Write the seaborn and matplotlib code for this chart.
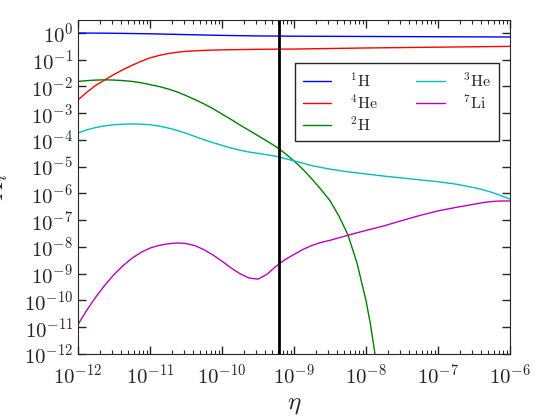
import matplotlib
matplotlib.use("Agg")
import matplotlib.pyplot as plt
import matplotlib.ticker as mticker
import seaborn as sns
import numpy as np
import pandas as pd

# values, as log10(eta) and log10(abundance)
h1_logeta = [-12, -11.5, -11, -10.5, -10, -9.5, -9, -8, -7, -6]
h1_logx = [0.0, -0.01, -0.03, -0.06, -0.09, -0.11, -0.12, -0.13, -0.14, -0.15]

he4_logeta = [-12, -11.875, -11.75, -11.625, -11.5, -11.375, -11.25, -11.125, -11,
              -10.875, -10.75, -10.625, -10.5, -10.25, -10, -9.5, -9, -8, -7, -6]
he4_logx = [-2.5, -2.21, -1.95, -1.75, -1.55, -1.37, -1.21, -1.06, -0.93,
            -0.84, -0.77, -0.72, -0.685, -0.65, -0.63, -0.61, -0.6, -0.56, -0.53, -0.5]

h2_logeta = [-12, -11.875, -11.75, -11.625, -11.5, -11.375, -11.25, -11.125, -11,
             -10.875, -10.75, -10.625, -10.5, -10.375, -10.25, -10.125, -10, -9.875,
             -9.75, -9.625, -9.5, -9.375, -9.25, -9.125, -9, -8.875, -8.75, -8.625,
             -8.5, -8.375, -8.25, -8.125, -8.0, -7.9375, -7.875, -7.8]
h2_logx = [-1.81, -1.78, -1.76, -1.75, -1.76, -1.78, -1.81, -1.86, -1.93,
           -2.0, -2.09, -2.2, -2.34, -2.49, -2.65, -2.83, -3.03, -3.23,
           -3.44, -3.64, -3.84, -4.04, -4.25, -4.5, -4.78, -5.1, -5.46, -5.85,
           -6.27, -6.85, -7.55, -8.6, -10.0, -10.9, -12.0, -13.5]

he3_logeta = [-12, -11.875, -11.75, -11.625, -11.5, -11.375, -11.25, -11.125, -11,
              -10.875, -10.75, -10.625, -10.5, -10.375, -10.25, -10.125, -10, -9.875,
              -9.75, -9.625, -9.5, -9.25, -9, -8.75, -8.5, -8.25, -8, -7.75, -7.5,
              -7.25, -7, -6.75, -6.5, -6.375, -6.25, -6.125, -6]
he3_logx = [-3.74, -3.62, -3.53, -3.47, -3.43, -3.41, -3.4, -3.41, -3.43,
            -3.48, -3.55, -3.64, -3.75, -3.87, -3.99, -4.1, -4.2, -4.3,
            -4.38, -4.45, -4.5, -4.61, -4.78, -4.96, -5.09, -5.19, -5.27, -5.35, -5.42,
            -5.49, -5.56, -5.65, -5.78, -5.86, -5.96, -6.08, -6.21]

li7_logeta = [-12, -11.875, -11.75, -11.625, -11.5, -11.375, -11.25, -11.125, -11,
              -10.875, -10.75, -10.625, -10.5, -10.375, -10.25, -10.125, -10, -9.875,
              -9.75, -9.625, -9.5, -9.375, -9.25, -9.125, -9, -8.875, -8.75, -8.625,
              -8.5, -8.25, -8, -7.75, -7.5, -7.25, -7, -6.75, -6.5, -6.375, -6.25,
              -6.125, -6]
li7_logx = [-10.9, -10.35, -9.86, -9.42, -9.03, -8.7, -8.42, -8.2, -8.04,
            -7.94, -7.88, -7.85, -7.87, -7.95, -8.1, -8.3, -8.53, -8.78,
            -9.0, -9.16, -9.2, -9.02, -8.72, -8.47, -8.28, -8.09, -7.94, -7.83,
            -7.75, -7.56, -7.38, -7.21, -7.01, -6.82, -6.65, -6.52, -6.4, -6.34, -6.3,
            -6.28, -6.28]

species = ["$^1$H", "$^4$He", "$^2$H", "$^3$He", "$^7$Li"]
colors = ["b", "r", "g", "c", "m"]
eta_obs = 6.1e-10

frames = []
for name, le, lx in zip(species,
                        [h1_logeta, he4_logeta, h2_logeta, he3_logeta, li7_logeta],
                        [h1_logx, he4_logx, h2_logx, he3_logx, li7_logx]):
    frames.append(pd.DataFrame({"eta": 10.0 ** np.array(le),
                                "X": 10.0 ** np.array(lx),
                                "species": name}))
df = pd.concat(frames, ignore_index=True)

sns.set_style("ticks", {"xtick.direction": "in", "ytick.direction": "in",
                        "axes.edgecolor": "0.15"})
plt.rcParams["font.family"] = "serif"
plt.rcParams["font.serif"] = ["cmr10", "DejaVu Serif"]
plt.rcParams["mathtext.fontset"] = "cm"
plt.rcParams["axes.formatter.use_mathtext"] = True

fig = plt.figure(figsize=(5.6, 4.2), dpi=100)
ax = fig.add_axes([78 / 560, 66 / 420, 432 / 560, 334 / 420])

sns.lineplot(data=df, x="eta", y="X", hue="species", hue_order=species,
             palette=dict(zip(species, colors)), estimator=None, sort=True,
             linewidth=1.0, ax=ax)
ax.axvline(eta_obs, color="k", linewidth=2)

ax.set_xscale("log")
ax.set_yscale("log")
ax.set_xlim(1e-12, 1e-6)
ax.set_ylim(1e-12, 3.06)
ax.yaxis.set_major_locator(mticker.LogLocator(base=10, numticks=20))
ax.yaxis.set_minor_locator(mticker.NullLocator())
ax.xaxis.set_major_locator(mticker.LogLocator(base=10, numticks=20))
ax.tick_params(which="both", direction="in", top=True, right=True, labelsize=15)
ax.tick_params(which="major", length=6, width=1)
ax.tick_params(which="minor", length=3, width=0.8)
ax.tick_params(axis="x", pad=7)

ax.set_xlabel(r"$\eta$", fontsize=18)
ax.set_ylabel(r"$X_i$", fontsize=18)
ax.yaxis.set_label_coords(-0.158, 0.5)

handles, labels = ax.get_legend_handles_labels()
leg = ax.legend(handles, labels, ncol=2, loc="upper right",
                bbox_to_anchor=(0.9745, 0.871), borderaxespad=0, fontsize=11.5,
                frameon=True, fancybox=False, framealpha=1, edgecolor="0.15",
                handlelength=1.8, handletextpad=1.15, columnspacing=2.4,
                borderpad=0.5, labelspacing=0.22)
leg.get_frame().set_linewidth(1.0)

fig.savefig("out.png", dpi=100)
